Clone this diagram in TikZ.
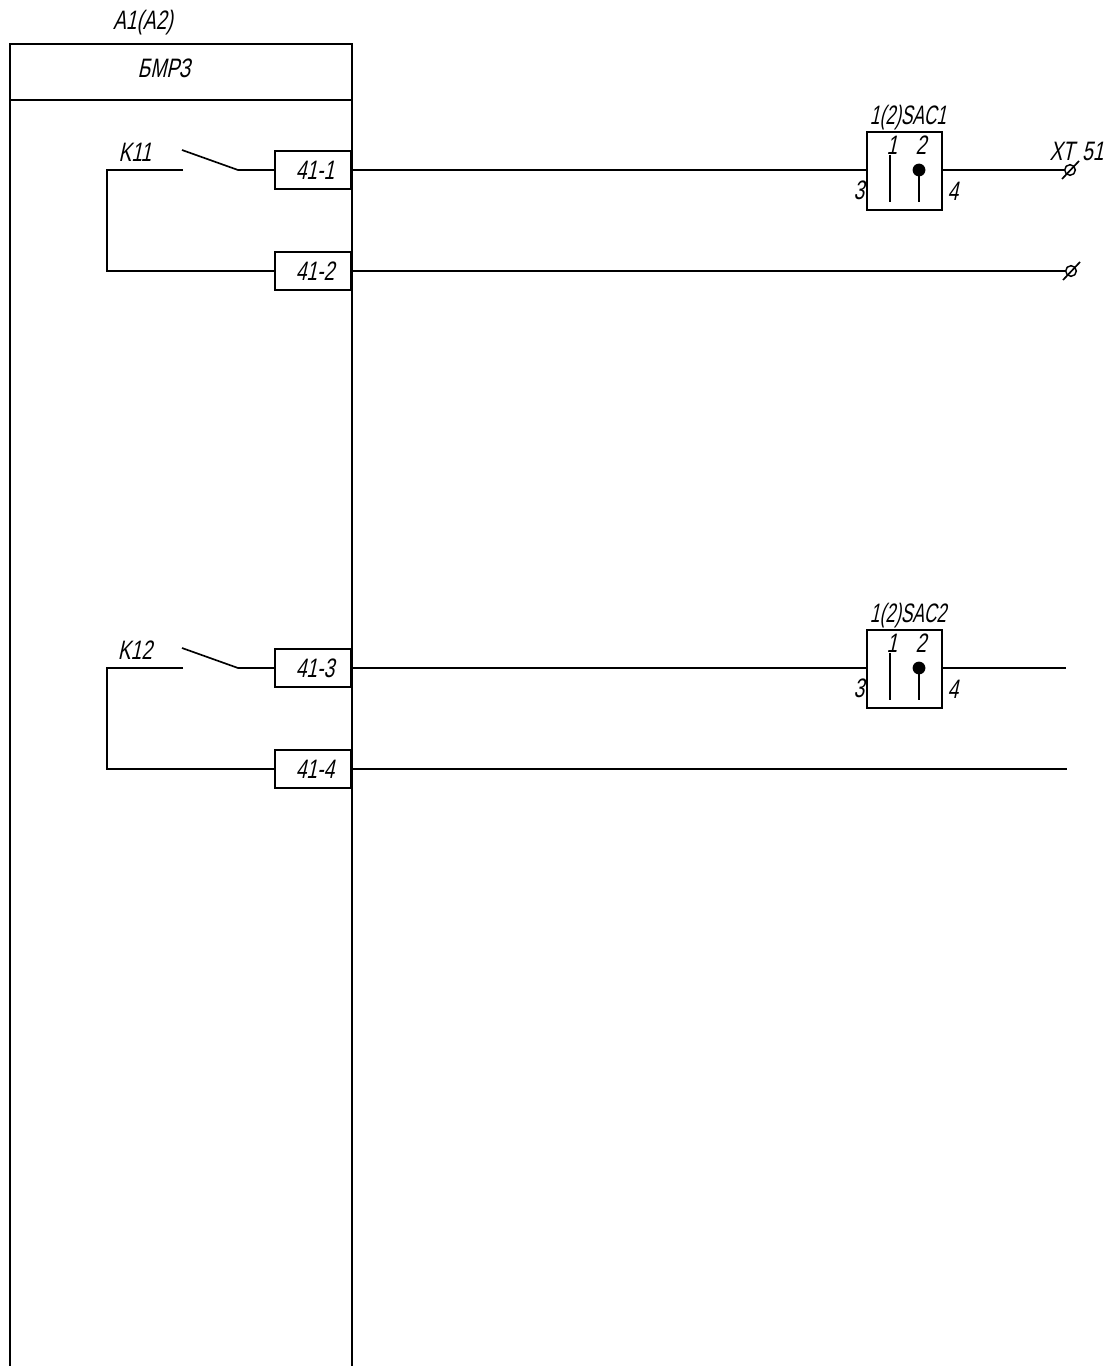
\documentclass[tikz,border=0pt]{standalone}
\usepackage{fontspec}
\usetikzlibrary{calc}
\setmainfont{Liberation Sans}
\newfontfamily\cadfont[FakeStretch=0.72,FakeSlant=0.22]{Liberation Sans}
\newfontfamily\cadnarrow[FakeStretch=0.65,FakeSlant=0.22]{Liberation Sans}
\tikzset{
  wire/.style={line width=1.25pt},
  lbl/.style={inner sep=0pt,font=\cadfont\fontsize{20}{20}\selectfont},
  sacname/.style={inner sep=0pt,font=\cadnarrow\fontsize{20}{20}\selectfont},
  termbox/.style={draw,line width=1.25pt,minimum width=57pt,minimum height=28.5pt,inner sep=0pt,font=\cadfont\fontsize{20}{20}\selectfont,execute at begin node=\hspace{3pt}},
  sacbox/.style={draw,line width=1.25pt,minimum width=56.5pt,minimum height=58.5pt,inner sep=0pt},
  clamp/.style={circle,draw,line width=1.1pt,minimum size=8pt,inner sep=0pt}
}
\begin{document}
\begin{tikzpicture}[x=.75pt,y=-.75pt]
\useasboundingbox (0,0) rectangle (1106,1366);
% block
\draw[wire] (10,1366)--(10,44)--(352,44)--(352,1366);
\draw[wire] (10,100)--(352,100);
\node[lbl] (aname) at (143,23) {A1(A2)};
\node[lbl] (bname) at (164,68) {БМРЗ};
% two contact groups
\foreach \y/\k/\s/\a/\b in {170/K11/1/1/2,668/K12/2/3/4}{
  \pgfmathsetmacro{\yb}{\y+101}
  \node[termbox] (t\a) at (313,\y) {41-\a};
  \node[termbox] (t\b) at (313,\yb) {41-\b};
  \node[sacbox] (sac\s) at (904.5,\y+1) {};
  \node[lbl] (kname\s) at (135,\y-18) {\k};
  \node[sacname] at (908,\y-52) {1(2)SAC\s};
  \node[lbl] at (892,\y-25) {1};
  \node[lbl] at (921,\y-25) {2};
  \node[lbl] at (859,\y+20) {3};
  \node[lbl] at (953,\y+21) {4};
  \coordinate (open\s) at (183,\y);
  \coordinate (blade\s) at (182,\y-20);
  \coordinate (pivot\s) at (238,\y);
  \draw[wire] (t\a.west)--(pivot\s)--(blade\s);
  \draw[wire] (open\s)--(107,\y)--(107,\yb)--(t\b.west);
  \draw[wire] (t\a.east)--(sac\s.west|-t\a.east);
  \draw[wire] (890,\y-15)--(890,\y+32);
  \draw[wire] (919,\y)--(919,\y+32);
  \fill (919,\y) circle (4.8pt);
}
% right side
\node[lbl] (xtname) at (1076.5,151) {XT\hspace{2pt} 51};
\node[clamp] (c1) at (1070,170) {};
\node[clamp] (c2) at (1071,271) {};
\draw[wire] ($(c1)+(9,-9)$)--($(c1)+(-8,9)$);
\draw[wire] ($(c2)+(9,-9)$)--($(c2)+(-8,9)$);
\draw[wire] (sac1.east|-c1)--(c1);
\draw[wire] (t2.east)--(c2);
\coordinate (end3) at (1066,668);
\coordinate (end4) at (1067,769);
\draw[wire] (sac2.east|-end3)--(end3);
\draw[wire] (t4.east)--(end4);
\end{tikzpicture}
\end{document}
